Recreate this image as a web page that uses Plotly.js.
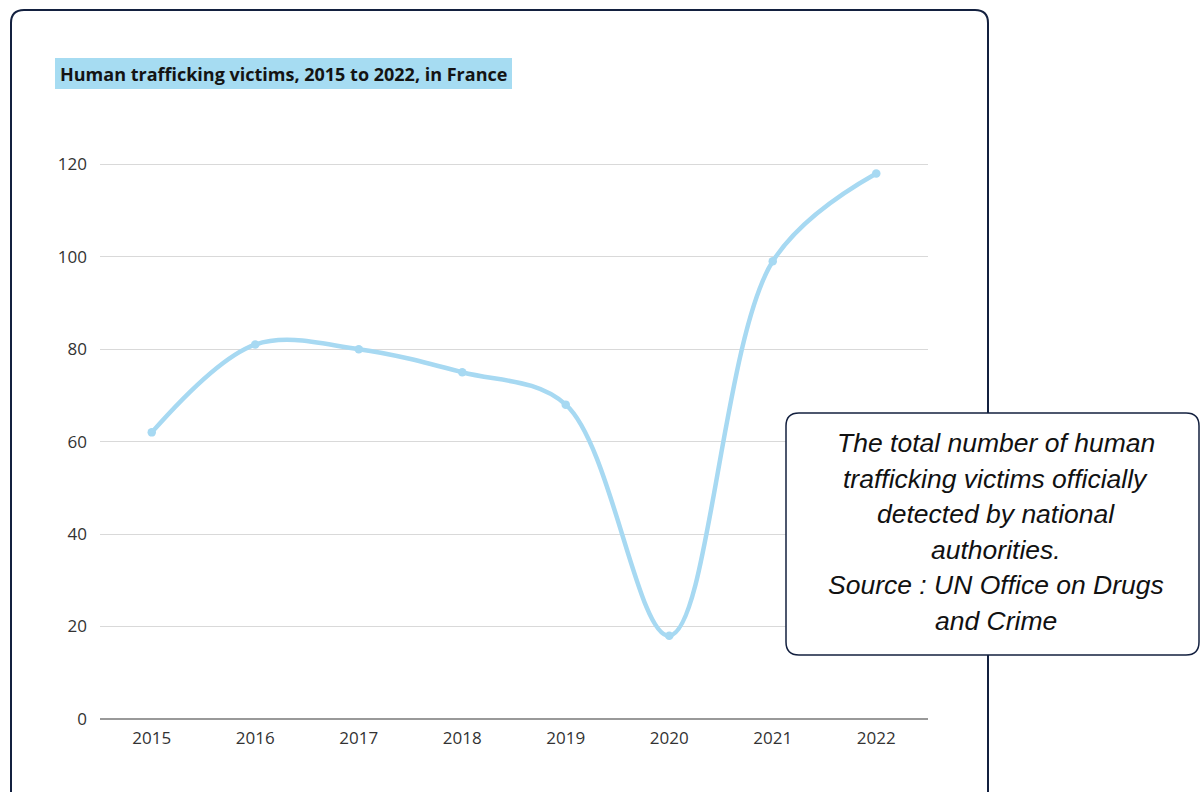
<!DOCTYPE html>
<html>
<head>
<meta charset="utf-8">
<script src="https://cdn.plot.ly/plotly-3.0.1.min.js"></script>
<style>
html,body{margin:0;padding:0;background:#fff;}
#chart{width:1200px;height:792px;}
</style>
</head>
<body>
<div id="chart"></div>
<script>
var years = ["2015","2016","2017","2018","2019","2020","2021","2022"];
var victims = [62, 81, 80, 75, 68, 18, 99, 118];
var yTicks = [0, 20, 40, 60, 80, 100, 120];
var titleText = "Human trafficking victims, 2015 to 2022, in France";
var noteLines = [
  "The total number of human",
  "trafficking victims officially",
  "detected by national",
  "authorities.",
  "Source : UN Office on Drugs",
  "and Crime"
];

var W = 1200, H = 792;
var M = {l: 100, r: 272, t: 118, b: 73};
var PW = W - M.l - M.r, PH = H - M.t - M.b;
function px(x){ return (x - M.l) / PW; }
function py(y){ return (H - M.b - y) / PH; }
function rr(x0, y0, x1, y1, r){
  var p = [];
  p.push("M" + px(x0 + r) + "," + py(y0));
  p.push("L" + px(x1 - r) + "," + py(y0));
  p.push("Q" + px(x1) + "," + py(y0) + " " + px(x1) + "," + py(y0 + r));
  p.push("L" + px(x1) + "," + py(y1 - r));
  p.push("Q" + px(x1) + "," + py(y1) + " " + px(x1 - r) + "," + py(y1));
  p.push("L" + px(x0 + r) + "," + py(y1));
  p.push("Q" + px(x0) + "," + py(y1) + " " + px(x0) + "," + py(y1 - r));
  p.push("L" + px(x0) + "," + py(y0 + r));
  p.push("Q" + px(x0) + "," + py(y0) + " " + px(x0 + r) + "," + py(y0));
  p.push("Z");
  return p.join(" ");
}

var navy = "#13203f";
var lineColor = "#a7d9f2";

var trace = {
  x: years,
  y: victims,
  type: "scatter",
  mode: "lines+markers",
  line: {shape: "spline", smoothing: 1, color: lineColor, width: 4.5},
  marker: {size: 8.5, color: lineColor},
  hoverinfo: "skip",
  cliponaxis: false
};

var annotations = [
  {xref: "paper", yref: "paper", x: px(283.5), y: py(73.5),
   xanchor: "center", yanchor: "middle", showarrow: false,
   text: "<b>" + titleText + "</b>",
   font: {family: "Open Sans", size: 18, color: "#141414"}}
];
noteLines.forEach(function(t, i){
  annotations.push({
    xref: "paper", yref: "paper", x: px(996), y: py(443 + i * 35.6),
    xanchor: "center", yanchor: "middle", showarrow: false, align: "center",
    text: "<i>" + t + "</i>",
    font: {family: "Liberation Sans", size: 26.5, color: "#111"}
  });
});

var layout = {
  width: W, height: H,
  margin: M,
  paper_bgcolor: "#fff",
  plot_bgcolor: "#fff",
  showlegend: false,
  hovermode: false,
  font: {family: "Open Sans", color: "#333"},
  xaxis: {
    type: "category",
    range: [-0.5, 7.5],
    showgrid: false,
    showline: false,
    zeroline: false,
    ticks: "",
    ticklabelstandoff: 7,
    tickfont: {family: "Open Sans", size: 17, color: "#333"},
    fixedrange: true
  },
  yaxis: {
    range: [0, 130],
    tickvals: yTicks,
    ticktext: yTicks.map(String),
    showgrid: true,
    gridcolor: "#d9d9d9",
    gridwidth: 1,
    zeroline: true,
    zerolinecolor: "#999",
    zerolinewidth: 1.5,
    showline: false,
    ticks: "",
    ticklabelstandoff: 12,
    tickfont: {family: "Open Sans", size: 17, color: "#333"},
    fixedrange: true
  },
  shapes: [
    {type: "path", xref: "paper", yref: "paper", layer: "above",
     path: rr(11, 10, 988, 830, 13),
     line: {color: navy, width: 2}, fillcolor: "rgba(0,0,0,0)"},
    {type: "rect", xref: "paper", yref: "paper", layer: "above",
     x0: px(55), x1: px(512), y0: py(58), y1: py(89),
     line: {width: 0}, fillcolor: "#a6dcf2"},
    {type: "path", xref: "paper", yref: "paper", layer: "above",
     path: rr(786, 413, 1199, 655, 13),
     line: {color: navy, width: 1.5}, fillcolor: "#ffffff"}
  ],
  annotations: annotations
};

Plotly.newPlot("chart", [trace], layout, {displayModeBar: false, staticPlot: true});
</script>
</body>
</html>
